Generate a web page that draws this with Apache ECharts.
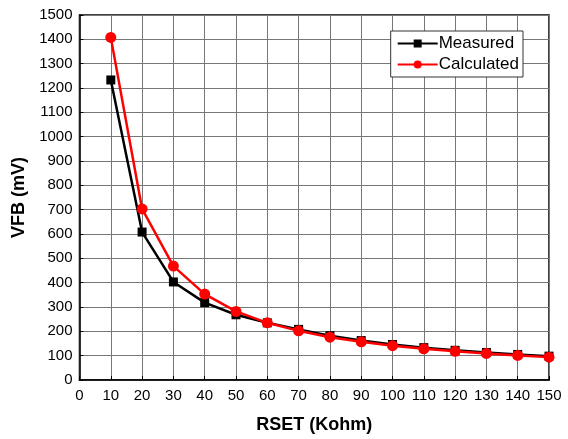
<!DOCTYPE html>
<html><head><meta charset="utf-8">
<script src="https://cdn.jsdelivr.net/npm/echarts@6/dist/echarts.min.js"></script>
<style>html,body{margin:0;padding:0;background:#fff}#c{width:568px;height:439px}</style>
</head><body><div id="c"></div>
<script>
var rset = [10,20,30,40,50,60,70,80,90,100,110,120,130,140,150];
var measured = [1233,608,403,318,268,235,208,182,162,146,133,122,113,105,98];
var calculated = [1408,703,468,353,282,235,202,176,157,141,128,118,109,101,94];
var font = 'Liberation Sans, Arial, sans-serif';
function pairs(xs, ys){ return xs.map(function(x,i){return [x, ys[i]];}); }
var chart = echarts.init(document.getElementById('c'));
chart.setOption({
  animation: false,
  grid: {left: 79.5, right: 19, top: 15, bottom: 56, show: true, borderColor: '#000', borderWidth: 1.5, backgroundColor: 'transparent'},
  legend: {
    right: 45, top: 31, orient: 'vertical', itemGap: 4, itemWidth: 40, itemHeight: 10,
    backgroundColor: '#fff', borderColor: '#333', borderWidth: 1, padding: [4,4,4,6],
    textStyle: {fontFamily: font, fontSize: 17, color: '#000', padding: [0,0,0,-4]},
    data: ['Measured','Calculated']
  },
  xAxis: {
    type: 'value', min: 0, max: 150, interval: 10,
    name: 'RSET (Kohm)', nameLocation: 'middle', nameGap: 36,
    nameTextStyle: {fontFamily: font, fontSize: 18, fontWeight: 'bold', color: '#000'},
    axisLine: {lineStyle: {color: '#000', width: 1.5}},
    axisTick: {inside: true, length: 4, lineStyle: {color: '#000'}},
    axisLabel: {fontFamily: font, fontSize: 15, color: '#000', margin: 8},
    splitLine: {show: true, lineStyle: {color: '#777', width: 1}}
  },
  yAxis: {
    type: 'value', min: 0, max: 1500, interval: 100,
    name: 'VFB (mV)', nameLocation: 'middle', nameGap: 43,
    nameTextStyle: {fontFamily: font, fontSize: 18, fontWeight: 'bold', color: '#000'},
    axisLine: {lineStyle: {color: '#000', width: 1.5}},
    axisTick: {inside: true, length: 4, lineStyle: {color: '#000'}},
    axisLabel: {fontFamily: font, fontSize: 15, color: '#000', margin: 7, formatter: function(v){return String(v);}},
    splitLine: {show: true, lineStyle: {color: '#777', width: 1}}
  },
  series: [
    {name: 'Measured', type: 'line', data: pairs(rset, measured), symbol: 'rect', symbolSize: 9,
     lineStyle: {color: '#000', width: 2.5}, itemStyle: {color: '#000'}},
    {name: 'Calculated', type: 'line', data: pairs(rset, calculated), symbol: 'circle', symbolSize: 11,
     lineStyle: {color: '#f00', width: 2.5}, itemStyle: {color: '#f00'}}
  ]
});
</script></body></html>
